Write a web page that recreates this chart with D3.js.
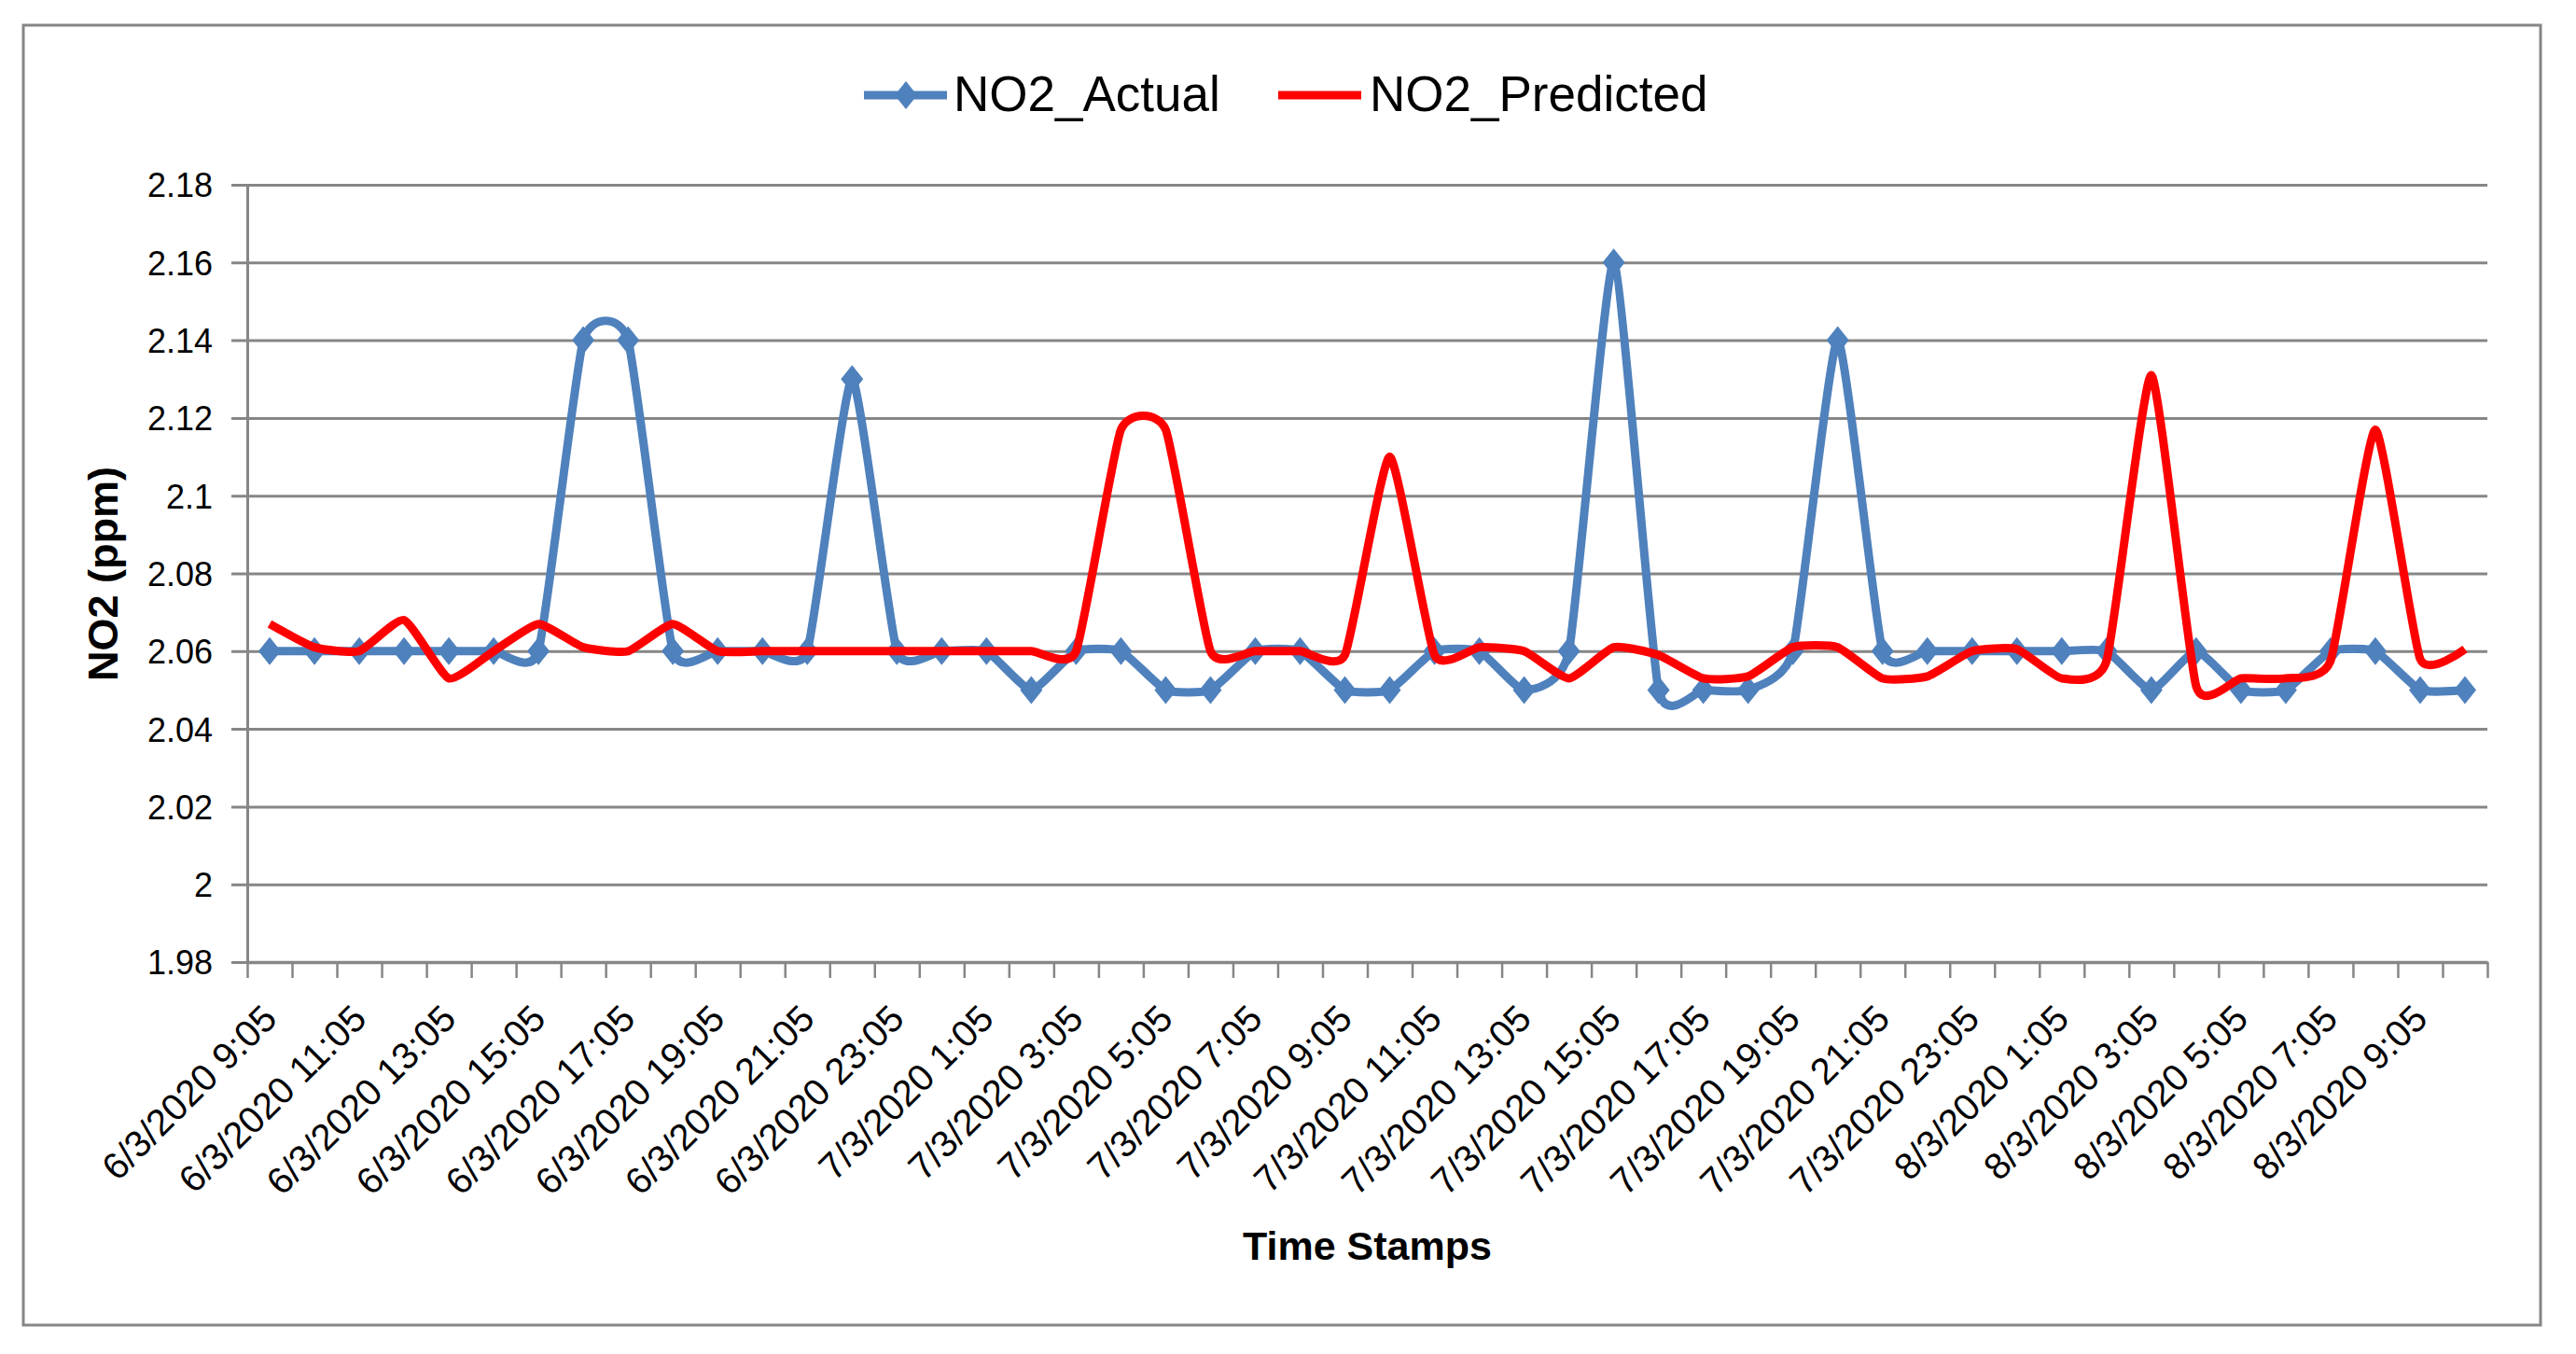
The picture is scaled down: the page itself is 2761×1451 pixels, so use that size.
<!DOCTYPE html>
<html>
<head>
<meta charset="utf-8">
<script src="https://cdn.jsdelivr.net/npm/d3@7"></script>
<style>
  body { margin: 0; background: #fff; }
  text { font-family: "Liberation Sans", Arial, sans-serif; fill: #000; }
</style>
</head>
<body>
<svg id="chart"></svg>
<script>
const categories = [
  "6/3/2020 9:05", "6/3/2020 10:05", "6/3/2020 11:05", "6/3/2020 12:05", "6/3/2020 13:05",
  "6/3/2020 14:05", "6/3/2020 15:05", "6/3/2020 16:05", "6/3/2020 17:05", "6/3/2020 18:05",
  "6/3/2020 19:05", "6/3/2020 20:05", "6/3/2020 21:05", "6/3/2020 22:05", "6/3/2020 23:05",
  "7/3/2020 0:05", "7/3/2020 1:05", "7/3/2020 2:05", "7/3/2020 3:05", "7/3/2020 4:05",
  "7/3/2020 5:05", "7/3/2020 6:05", "7/3/2020 7:05", "7/3/2020 8:05", "7/3/2020 9:05",
  "7/3/2020 10:05", "7/3/2020 11:05", "7/3/2020 12:05", "7/3/2020 13:05", "7/3/2020 14:05",
  "7/3/2020 15:05", "7/3/2020 16:05", "7/3/2020 17:05", "7/3/2020 18:05", "7/3/2020 19:05",
  "7/3/2020 20:05", "7/3/2020 21:05", "7/3/2020 22:05", "7/3/2020 23:05", "8/3/2020 0:05",
  "8/3/2020 1:05", "8/3/2020 2:05", "8/3/2020 3:05", "8/3/2020 4:05", "8/3/2020 5:05",
  "8/3/2020 6:05", "8/3/2020 7:05", "8/3/2020 8:05", "8/3/2020 9:05", "8/3/2020 10:05"
];

const no2Actual = [
  2.06, 2.06, 2.06, 2.06, 2.06, 2.06, 2.06, 2.14, 2.14, 2.06,
  2.06, 2.06, 2.06, 2.13, 2.06, 2.06, 2.06, 2.05, 2.06, 2.06,
  2.05, 2.05, 2.06, 2.06, 2.05, 2.05, 2.06, 2.06, 2.05, 2.06,
  2.16, 2.05, 2.05, 2.05, 2.06, 2.14, 2.06, 2.06, 2.06, 2.06,
  2.06, 2.06, 2.05, 2.06, 2.05, 2.05, 2.06, 2.06, 2.05, 2.05
];

const no2Predicted = [
  2.067, 2.061, 2.060, 2.068, 2.053, 2.060, 2.067, 2.061, 2.060, 2.067,
  2.060, 2.060, 2.060, 2.060, 2.060, 2.060, 2.060, 2.060, 2.060, 2.117,
  2.117, 2.060, 2.060, 2.060, 2.059, 2.110, 2.059, 2.061, 2.060, 2.053,
  2.061, 2.059, 2.053, 2.0535, 2.061, 2.061, 2.053, 2.0535, 2.060, 2.0605,
  2.053, 2.0575, 2.131, 2.051, 2.053, 2.053, 2.0575, 2.117, 2.058, 2.0605
];

const yTicks = [1.98, 2, 2.02, 2.04, 2.06, 2.08, 2.1, 2.12, 2.14, 2.16, 2.18];

const W = 2761, H = 1451;
const plot = { left: 265, right: 2666, top: 198, bottom: 1031 };
const gridColor = "#868686";
const blue = "#4F81BD", red = "#FF0000";

const svg = d3.select("#chart").attr("width", W).attr("height", H);

// outer frame
svg.append("rect")
  .attr("x", 25).attr("y", 27)
  .attr("width", 2723 - 25).attr("height", 1420 - 27)
  .attr("fill", "#fff").attr("stroke", gridColor).attr("stroke-width", 3);

const x = d3.scaleBand()
  .domain(categories)
  .range([plot.left, plot.right]);

const xEdge = d3.scaleLinear()
  .domain([0, categories.length])
  .range([plot.left, plot.right]);

const y = d3.scaleLinear()
  .domain([1.98, 2.18])
  .range([plot.bottom, plot.top]);

const cx = (i) => x(categories[i]) + x.bandwidth() / 2;

// horizontal gridlines (including the outward tick stub)
const grid = svg.append("g")
  .attr("transform", `translate(${plot.left - 17},0)`)
  .call(d3.axisRight(y).tickValues(yTicks).tickSize(plot.right - plot.left + 17).tickFormat(""));
grid.select(".domain").remove();
grid.selectAll("line").attr("stroke", gridColor).attr("stroke-width", 3);

// y axis
const yAxis = svg.append("g")
  .attr("transform", `translate(${plot.left},0)`)
  .call(d3.axisLeft(y).tickValues(yTicks).tickSize(0).tickSizeOuter(0).tickPadding(37)
    .tickFormat((d) => String(+d.toFixed(2))));
yAxis.select(".domain").attr("stroke", gridColor).attr("stroke-width", 3);
yAxis.selectAll("text")
  .style("font-size", "36px")
  .attr("dy", "0.36em");

// x axis tick marks at category edges
const xTicks = svg.append("g")
  .attr("transform", `translate(0,${plot.bottom})`)
  .call(d3.axisBottom(xEdge).tickValues(d3.range(categories.length + 1)).tickSize(17).tickSizeOuter(0).tickFormat(""));
xTicks.select(".domain").attr("stroke", gridColor).attr("stroke-width", 3.5);
xTicks.selectAll("line").attr("stroke", gridColor).attr("stroke-width", 2.5);

// x axis labels, every second category
const xLabels = svg.append("g")
  .attr("transform", `translate(0,${plot.bottom})`)
  .call(d3.axisBottom(x).tickSize(0)
    .tickFormat((d, i) => (i % 2 === 0 ? d : "")));
xLabels.select(".domain").remove();
xLabels.selectAll("text")
  .style("font-size", "40px")
  .attr("x", 0).attr("y", 0)
  .attr("dy", "0.35em")
  .attr("text-anchor", "end")
  .attr("transform", "translate(0,53) rotate(-45)");

// series
const line = d3.line()
  .x((d, i) => cx(i))
  .y((d) => y(d))
  .curve(d3.curveCardinal.tension(0.5));

svg.append("path")
  .datum(no2Actual)
  .attr("fill", "none")
  .attr("stroke", blue)
  .attr("stroke-width", 9)
  .attr("stroke-linejoin", "round")
  .attr("d", line);

const diamond = "M0,-15L12,0L0,15L-12,0Z";

svg.append("g").selectAll("path")
  .data(no2Actual)
  .enter().append("path")
  .attr("d", diamond)
  .attr("fill", blue)
  .attr("transform", (d, i) => `translate(${cx(i)},${y(d)})`);

svg.append("path")
  .datum(no2Predicted)
  .attr("fill", "none")
  .attr("stroke", red)
  .attr("stroke-width", 9)
  .attr("stroke-linejoin", "round")
  .attr("d", line);

// legend
const legend = svg.append("g");
legend.append("line")
  .attr("x1", 926).attr("x2", 1015).attr("y1", 102).attr("y2", 102)
  .attr("stroke", blue).attr("stroke-width", 9);
legend.append("path")
  .attr("d", diamond).attr("fill", blue)
  .attr("transform", "translate(971,102)");
legend.append("text")
  .attr("x", 1022).attr("y", 119)
  .style("font-size", "53px")
  .text("NO2_Actual");

legend.append("line")
  .attr("x1", 1370).attr("x2", 1459).attr("y1", 102).attr("y2", 102)
  .attr("stroke", red).attr("stroke-width", 9);
legend.append("text")
  .attr("x", 1468).attr("y", 119)
  .style("font-size", "53px")
  .text("NO2_Predicted");

// axis titles
svg.append("text")
  .attr("transform", "translate(126,615) rotate(-90)")
  .attr("text-anchor", "middle")
  .style("font-size", "45px")
  .style("font-weight", "bold")
  .text("NO2 (ppm)");

svg.append("text")
  .attr("x", (plot.left + plot.right) / 2)
  .attr("y", 1350)
  .attr("text-anchor", "middle")
  .style("font-size", "43px")
  .style("font-weight", "bold")
  .text("Time Stamps");
</script>
</body>
</html>
